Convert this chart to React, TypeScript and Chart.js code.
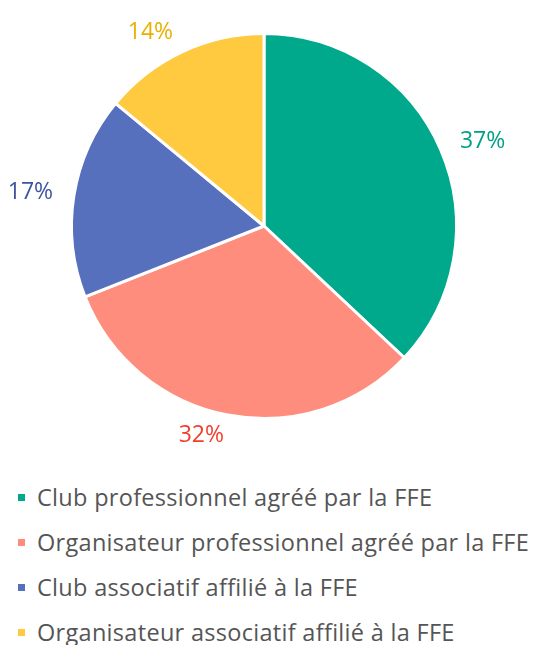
import React, { useEffect, useRef } from "react";
import { Chart, registerables } from "chart.js";

Chart.register(...registerables);

const categories = [
  "Club professionnel agréé par la FFE",
  "Organisateur professionnel agréé par la FFE",
  "Club associatif affilié à la FFE",
  "Organisateur associatif affilié à la FFE",
];
const shares = [37, 32, 17, 14];
const sliceColors = ["#00A98B", "#FF8D7E", "#5770BE", "#FFCA40"];
const labelColors = ["#00A088", "#F0402C", "#3D54A3", "#E8B000"];

const FONT = "'Open Sans', 'DejaVu Sans', sans-serif";

const outsideLabels = {
  id: "outsideLabels",
  afterDatasetsDraw(chart: any) {
    const ctx = chart.ctx;
    const meta = chart.getDatasetMeta(0);
    ctx.save();
    ctx.font = `23px ${FONT}`;
    ctx.textBaseline = "middle";
    meta.data.forEach((arc: any, i: number) => {
      const p = arc.getProps(["x", "y", "startAngle", "endAngle", "outerRadius"], true);
      const mid = (p.startAngle + p.endAngle) / 2;
      const r = p.outerRadius + 21;
      const x = p.x + Math.cos(mid) * r;
      const y = p.y + Math.sin(mid) * r;
      ctx.textAlign = Math.cos(mid) >= 0 ? "left" : "right";
      ctx.fillStyle = labelColors[i];
      ctx.fillText(`${shares[i]}%`, x, y);
    });
    ctx.restore();
  },
};

export default function App() {
  const ref = useRef<HTMLCanvasElement | null>(null);
  useEffect(() => {
    if (!ref.current) return;
    const chart = new Chart(ref.current, {
      type: "pie",
      data: {
        labels: categories,
        datasets: [
          {
            data: shares,
            backgroundColor: sliceColors,
            borderColor: "#ffffff",
            borderWidth: 3,
          },
        ],
      },
      options: {
        responsive: false,
        animation: false,
        layout: { padding: { top: 32, bottom: 50, left: 70, right: 83 } },
        plugins: {
          legend: { display: false },
          tooltip: { enabled: false },
        },
      },
      plugins: [outsideLabels],
    });
    return () => chart.destroy();
  }, []);

  return (
    <div style={{ position: "absolute", left: 0, top: 0, width: 541, height: 645, background: "#fff", overflow: "hidden" }}>
      <canvas ref={ref} width={541} height={470} style={{ display: "block", width: 541, height: 470 }} />
      <div style={{ position: "absolute", left: 0, top: 475, fontFamily: FONT, fontSize: 23.5, letterSpacing: 0.3, color: "#555555" }}>
        {categories.map((c, i) => (
          <div key={c} style={{ height: 45, lineHeight: "45px", whiteSpace: "nowrap", display: "flex", alignItems: "center" }}>
            <span style={{ display: "inline-block", width: 7, height: 7, background: sliceColors[i], marginLeft: 18, marginRight: 12 }} />
            <span>{c}</span>
          </div>
        ))}
      </div>
    </div>
  );
}
